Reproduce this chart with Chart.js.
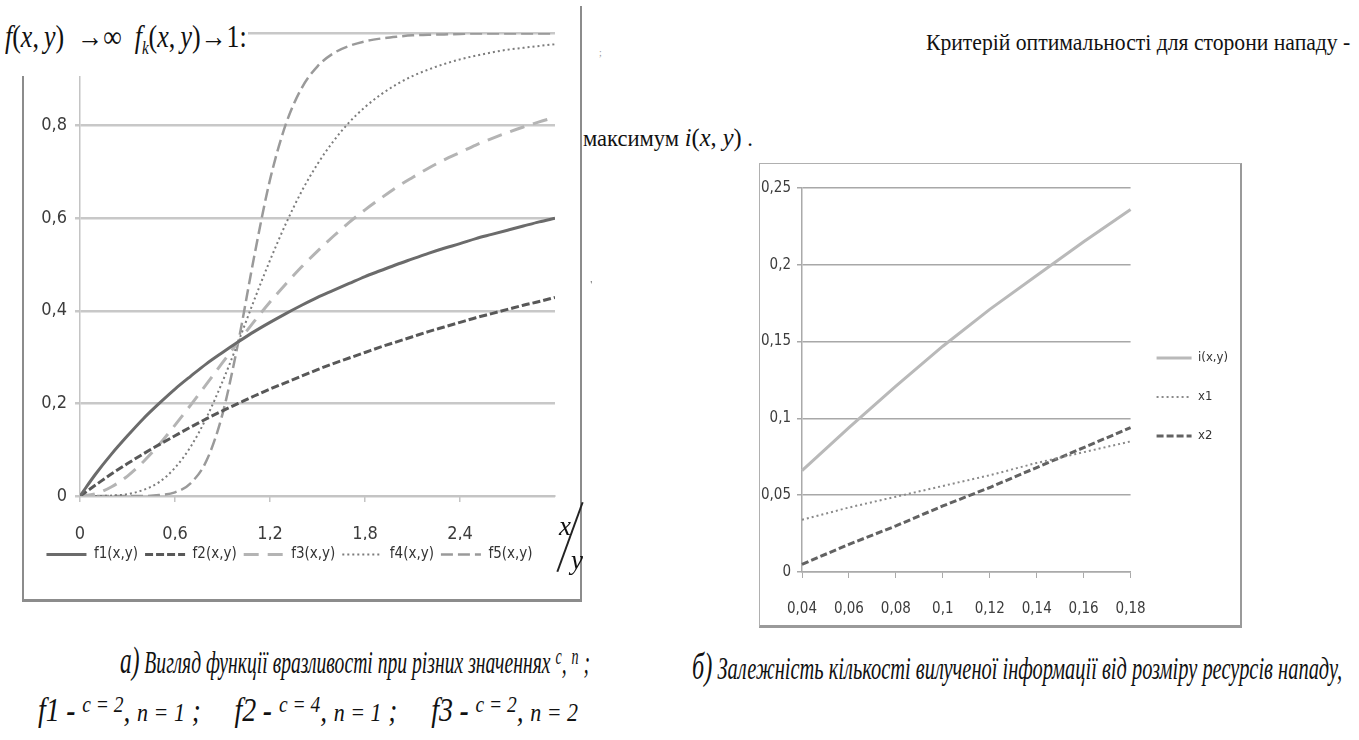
<!DOCTYPE html>
<html lang="uk">
<head>
    <meta charset="UTF-8">
    <title>Функції вразливості</title>
    <script src="https://cdn.jsdelivr.net/npm/chart.js"></script>
    <style>
        * { margin: 0; padding: 0; box-sizing: border-box; }
        body {
            width: 1359px;
            height: 740px;
            position: relative;
            overflow: hidden;
            background: #fff;
            font-family: 'Liberation Serif', 'Times New Roman', 'DejaVu Serif', serif;
            color: #111;
        }
        .abs { position: absolute; }
        .fit {
            position: absolute;
            white-space: nowrap;
            display: inline-block;
            transform-origin: left center;
            line-height: 1;
        }
        .cap { font-style: italic; font-size: 32px; }
        .cap .big { font-size: 38px; }
        .cap .up { font-size: 23px; position: relative; top: -9px; }
        #leftFrame {
            left: 22px; top: 6px; width: 560px; height: 596px;
            border-left: 2px solid #8c8c8c;
            border-right: 2px solid #8c8c8c;
            border-bottom: 3px solid #8c8c8c;
        }
        #leftBox { left: 24px; top: 0; width: 556px; height: 600px; }
        #formulaMask { left: 0; top: 0; width: 248px; height: 76px; background: #fff; }
        #rightFrame {
            left: 759px; top: 163px; width: 483px; height: 465px;
            border: 1px solid #b0b0b0;
            border-right: 2px solid #9a9a9a;
            border-bottom: 3px solid #9a9a9a;
        }
        #rightBox { left: 761px; top: 165px; width: 479px; height: 459px; }
        #slash { left: 569px; top: 500px; width: 2px; height: 74px; background: #222; transform: rotate(20deg); }
    </style>
</head>
<body>

<div class="abs" id="leftFrame"></div>
<div class="abs" id="leftBox"><canvas id="leftChart"></canvas></div>
<div class="abs" id="formulaMask"></div>
<div class="fit" data-w="242" style="left:5px; top:21px; font-size:31px;">
    <i>f</i>(<i>x</i>,&thinsp;<i>y</i>)&nbsp;&nbsp;→∞&nbsp;&nbsp;<i>f<sub style="font-size:18px">k</sub></i>(<i>x</i>,&thinsp;<i>y</i>)→1:
</div>

<div class="fit" data-w="12" style="left:559px; top:513px; font-size:27px; font-style:italic;">x</div>
<div class="abs" id="slash"></div>
<div class="fit" data-w="12" style="left:571px; top:547px; font-size:27px; font-style:italic;">y</div>

<div class="fit" data-w="424" style="left:926px; top:30px; font-size:24px;">Критерій оптимальності для сторони нападу -</div>
<div class="fit" data-w="3" style="left:599px; top:48px; font-size:10px; color:#999;">;</div>
<div class="fit" data-w="170" style="left:583px; top:125px; font-size:24px;">максимум <i style="font-size:26px">i</i><span style="font-size:26px">(<i>x</i>, <i>y</i>)</span> .</div>
<div class="fit" data-w="3" style="left:590px; top:280px; font-size:10px; color:#888;">'</div>

<div class="abs" id="rightFrame"></div>
<div class="abs" id="rightBox"><canvas id="rightChart"></canvas></div>

<div class="fit cap" data-w="470" style="left:120px; top:641px;">
    <span class="big">а)</span> Вигляд функції вразливості при різних значеннях <span class="up">c</span>, <span class="up">n</span> ;
</div>
<div class="fit cap" data-w="540" style="left:38px; top:694px;">
    <span class="big" style="font-size:33px">f1</span> <b>-</b> <span class="up">c = 2</span>, <span style="font-size:26px">n = 1</span> ;&nbsp;&nbsp;&nbsp;&nbsp;
    <span class="big" style="font-size:33px">f2</span> <b>-</b> <span class="up">c = 4</span>, <span style="font-size:26px">n = 1</span> ;&nbsp;&nbsp;&nbsp;&nbsp;
    <span class="big" style="font-size:33px">f3</span> <b>-</b> <span class="up">c = 2</span>, <span style="font-size:26px">n = 2</span>
</div>
<div class="fit cap" data-w="650" style="left:692px; top:647px;">
    <span class="big">б)</span> Залежність кількості вилученої інформації від розміру ресурсів нападу,
</div>

<script>
    // ---- a) vulnerability functions ----
    const xValues = [0, 0.1, 0.2, 0.3, 0.4, 0.5, 0.6, 0.7, 0.8, 0.9, 1.0,
        1.1, 1.2, 1.3, 1.4, 1.5, 1.6, 1.7, 1.8, 1.9, 2.0,
        2.1, 2.2, 2.3, 2.4, 2.5, 2.6, 2.7, 2.8, 2.9, 3.0];
    const f1Values = [0, 0.048, 0.091, 0.130, 0.167, 0.200, 0.231, 0.259, 0.286, 0.310, 0.333,
        0.355, 0.375, 0.394, 0.412, 0.429, 0.444, 0.459, 0.474, 0.487, 0.500,
        0.512, 0.524, 0.535, 0.545, 0.556, 0.565, 0.574, 0.583, 0.592, 0.600];
    const f2Values = [0, 0.024, 0.048, 0.070, 0.091, 0.111, 0.130, 0.149, 0.167, 0.184, 0.200,
        0.216, 0.231, 0.245, 0.259, 0.273, 0.286, 0.298, 0.310, 0.322, 0.333,
        0.344, 0.355, 0.365, 0.375, 0.385, 0.394, 0.403, 0.412, 0.420, 0.429];
    const f3Values = [0, 0.005, 0.020, 0.043, 0.074, 0.111, 0.153, 0.197, 0.242, 0.288, 0.333,
        0.377, 0.419, 0.458, 0.495, 0.529, 0.561, 0.591, 0.618, 0.643, 0.667,
        0.688, 0.708, 0.726, 0.742, 0.758, 0.772, 0.785, 0.797, 0.808, 0.818];
    const f4Values = [0, 0, 0.001, 0.004, 0.013, 0.030, 0.061, 0.107, 0.170, 0.247, 0.333,
        0.423, 0.509, 0.588, 0.658, 0.717, 0.766, 0.807, 0.840, 0.867, 0.889,
        0.907, 0.921, 0.933, 0.943, 0.951, 0.958, 0.964, 0.968, 0.972, 0.976];
    const f5Values = [0, 0, 0, 0, 0, 0.002, 0.008, 0.028, 0.077, 0.177, 0.333,
        0.517, 0.683, 0.803, 0.881, 0.928, 0.956, 0.972, 0.982, 0.988, 0.992,
        0.995, 0.996, 0.997, 0.998, 0.999, 0.999, 0.999, 0.999, 0.999, 0.999];
    const xTickValues = [0, 0.6, 1.2, 1.8, 2.4];

    // ---- б) extracted information vs attack resources ----
    const attackLabels = ['0,04', '0,06', '0,08', '0,1', '0,12', '0,14', '0,16', '0,18'];
    const iValues  = [0.066, 0.094, 0.121, 0.147, 0.171, 0.193, 0.215, 0.236];
    const x1Values = [0.034, 0.042, 0.049, 0.056, 0.063, 0.071, 0.078, 0.085];
    const x2Values = [0.005, 0.018, 0.030, 0.043, 0.055, 0.068, 0.081, 0.094];

    const narrow = "'Liberation Sans Narrow', 'DejaVu Sans Condensed', 'Roboto', sans-serif";
    Chart.defaults.font.family = narrow;
    Chart.defaults.color = '#3c3c3c';

    const fmt = v => String(Math.round(v * 100) / 100).replace('.', ',');
    const pts = arr => arr.map((v, i) => ({ x: xValues[i], y: v }));

    // legend samples drawn as short lines with the dataset dash
    function lineLegend(chart) {
        return Chart.defaults.plugins.legend.labels.generateLabels(chart).map(item => {
            const ds = chart.data.datasets[item.datasetIndex];
            item.lineDash = ds.borderDash || [];
            item.lineWidth = ds.borderWidth;
            item.strokeStyle = ds.borderColor;
            item.pointStyle = 'line';
            return item;
        });
    }

    new Chart(document.getElementById('leftChart'), {
        type: 'line',
        data: {
            datasets: [
                { label: 'f1(x,y)', data: pts(f1Values), borderColor: '#6b6b6b', borderWidth: 3 },
                { label: 'f2(x,y)', data: pts(f2Values), borderColor: '#585858', borderWidth: 3, borderDash: [8, 3] },
                { label: 'f3(x,y)', data: pts(f3Values), borderColor: '#b4b4b4', borderWidth: 3, borderDash: [15, 9] },
                { label: 'f4(x,y)', data: pts(f4Values), borderColor: '#7c7c7c', borderWidth: 2, borderDash: [2, 3] },
                { label: 'f5(x,y)', data: pts(f5Values), borderColor: '#9a9a9a', borderWidth: 2.5, borderDash: [12, 5] }
            ]
        },
        options: {
            responsive: true,
            maintainAspectRatio: false,
            animation: false,
            elements: { point: { radius: 0 }, line: { cubicInterpolationMode: 'monotone' } },
            layout: { padding: { left: 0, top: 33, right: 25, bottom: 28 } },
            plugins: {
                tooltip: { enabled: false },
                legend: {
                    position: 'bottom',
                    labels: {
                        usePointStyle: true, pointStyle: 'line', pointStyleWidth: 40,
                        padding: 7, font: { size: 15 }, color: '#333',
                        generateLabels: lineLegend
                    }
                }
            },
            scales: {
                x: {
                    type: 'linear', min: 0, max: 3,
                    afterBuildTicks: s => { s.ticks = xTickValues.map(v => ({ value: v })); },
                    afterFit: s => { s.height = 44; },
                    ticks: { padding: 22, font: { size: 18 }, callback: v => fmt(v), maxRotation: 0 },
                    grid: { drawOnChartArea: false, tickLength: 6, color: '#c4c4c4', lineWidth: 1.5 },
                    border: { color: '#c4c4c4', width: 2 }
                },
                y: {
                    min: 0, max: 1,
                    afterFit: s => { s.width = 56; },
                    ticks: { stepSize: 0.2, padding: 8, font: { size: 18 }, callback: v => v >= 1 ? '' : fmt(v) },
                    grid: { color: '#c8c8c8', lineWidth: 2.5, tickLength: 5 },
                    border: { color: '#c4c4c4', width: 1.5 }
                }
            }
        }
    });

    new Chart(document.getElementById('rightChart'), {
        type: 'line',
        data: {
            labels: attackLabels,
            datasets: [
                { label: 'i(x,y)', data: iValues, borderColor: '#b9b9b9', borderWidth: 3 },
                { label: 'x1', data: x1Values, borderColor: '#8a8a8a', borderWidth: 2, borderDash: [2, 3] },
                { label: 'x2', data: x2Values, borderColor: '#626262', borderWidth: 3, borderDash: [7, 3] }
            ]
        },
        options: {
            responsive: true,
            maintainAspectRatio: false,
            animation: false,
            elements: { point: { radius: 0 } },
            layout: { padding: { left: 0, top: 23, right: 2, bottom: 0 } },
            plugins: {
                tooltip: { enabled: false },
                legend: {
                    position: 'right',
                    fullSize: false,
                    title: { display: true, text: '', font: { size: 10 }, padding: { top: 11, bottom: 11 } },
                    labels: {
                        usePointStyle: true, pointStyle: 'line', pointStyleWidth: 35,
                        padding: 26, font: { size: 13 }, color: '#333',
                        generateLabels: lineLegend
                    }
                }
            },
            scales: {
                x: {
                    afterFit: s => { s.height = 52; },
                    ticks: { padding: 22, font: { size: 15 }, maxRotation: 0, autoSkip: false },
                    grid: { drawOnChartArea: false, tickLength: 6, color: '#aaa' },
                    border: { color: '#aaa', width: 1.5 }
                },
                y: {
                    min: 0, max: 0.25,
                    afterFit: s => { s.width = 41; },
                    ticks: { stepSize: 0.05, padding: 6, font: { size: 15 }, callback: v => fmt(v) },
                    grid: { color: '#a8a8a8', lineWidth: 1.5, tickLength: 5 },
                    border: { color: '#aaa', width: 1.5 }
                }
            }
        }
    });

    // squeeze the serif texts to the widths they have in the scan
    document.querySelectorAll('.fit').forEach(el => {
        const w = +el.dataset.w;
        el.style.transform = 'scaleX(' + (w / el.offsetWidth) + ')';
    });
</script>
</body>
</html>
